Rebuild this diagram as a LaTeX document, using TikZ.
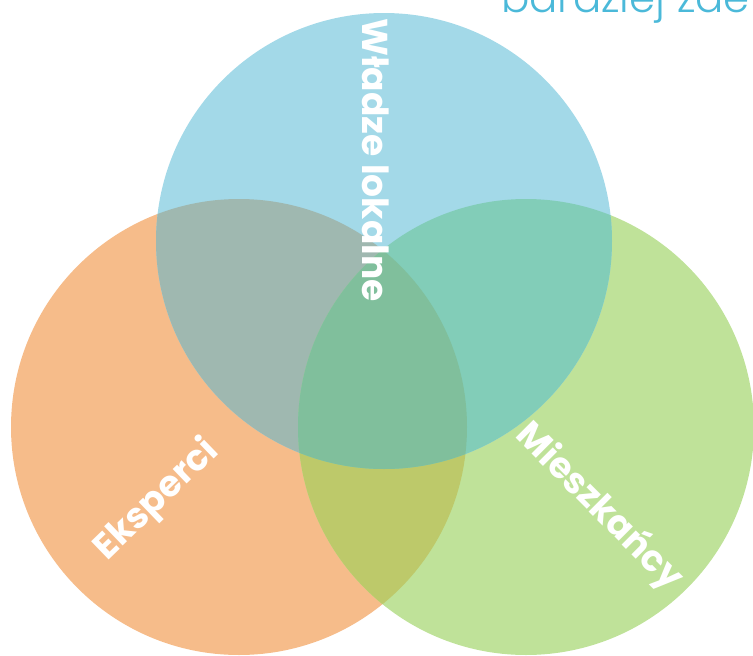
\documentclass[tikz,border=0pt]{standalone}
\usepackage{fontspec}
\setmainfont{Poppins}
\newfontfamily\lightfont{Poppins Light}
\definecolor{cOrange}{HTML}{F6BC8A}
\definecolor{cBlue}{HTML}{A3D9E8}
\definecolor{cGreen}{HTML}{BFE299}
\definecolor{cOrangeBlue}{HTML}{9FB8B0}
\definecolor{cBlueGreen}{HTML}{82CDB8}
\definecolor{cOrangeGreen}{HTML}{BDC96A}
\definecolor{cAll}{HTML}{80BF9C}
\definecolor{cTitle}{HTML}{4BB9D9}
\tikzset{
  setlabel/.style={text=white, font=\bfseries\fontsize{36}{42}\selectfont, inner sep=0pt},
}
\begin{document}
\begin{tikzpicture}[x=1pt,y=-1pt]
  \useasboundingbox (0,0) rectangle (753,656);
  \def\R{228pt}
  \coordinate (cO) at (239,427);
  \coordinate (cB) at (384,241);
  \coordinate (cG) at (526,427);
  % base discs
  \fill[cOrange] (cO) circle[radius=\R];
  \fill[cGreen] (cG) circle[radius=\R];
  \fill[cBlue] (cB) circle[radius=\R];
  % pairwise overlaps
  \begin{scope}
    \clip (cO) circle[radius=\R];
    \fill[cOrangeBlue] (cB) circle[radius=\R];
    \fill[cOrangeGreen] (cG) circle[radius=\R];
  \end{scope}
  \begin{scope}
    \clip (cB) circle[radius=\R];
    \fill[cBlueGreen] (cG) circle[radius=\R];
  \end{scope}
  % common part of all three
  \begin{scope}
    \clip (cO) circle[radius=\R];
    \clip (cB) circle[radius=\R];
    \fill[cAll] (cG) circle[radius=\R];
  \end{scope}
  % labels
  \node[setlabel, rotate=-90] (wladze) at (376,160) {Władze lokalne};
  \node[setlabel, rotate=44] (eksperci) at (157,500) {Eksperci};
  \node[setlabel, rotate=-45] (mieszkancy) at (599,507) {Mieszkańcy};
  % heading running off the top edge
  \node[anchor=base west, inner sep=0pt, text=cTitle,
        font=\lightfont\fontsize{42}{50}\selectfont] (heading) at (501,12) {bardziej zde};
\end{tikzpicture}
\end{document}
